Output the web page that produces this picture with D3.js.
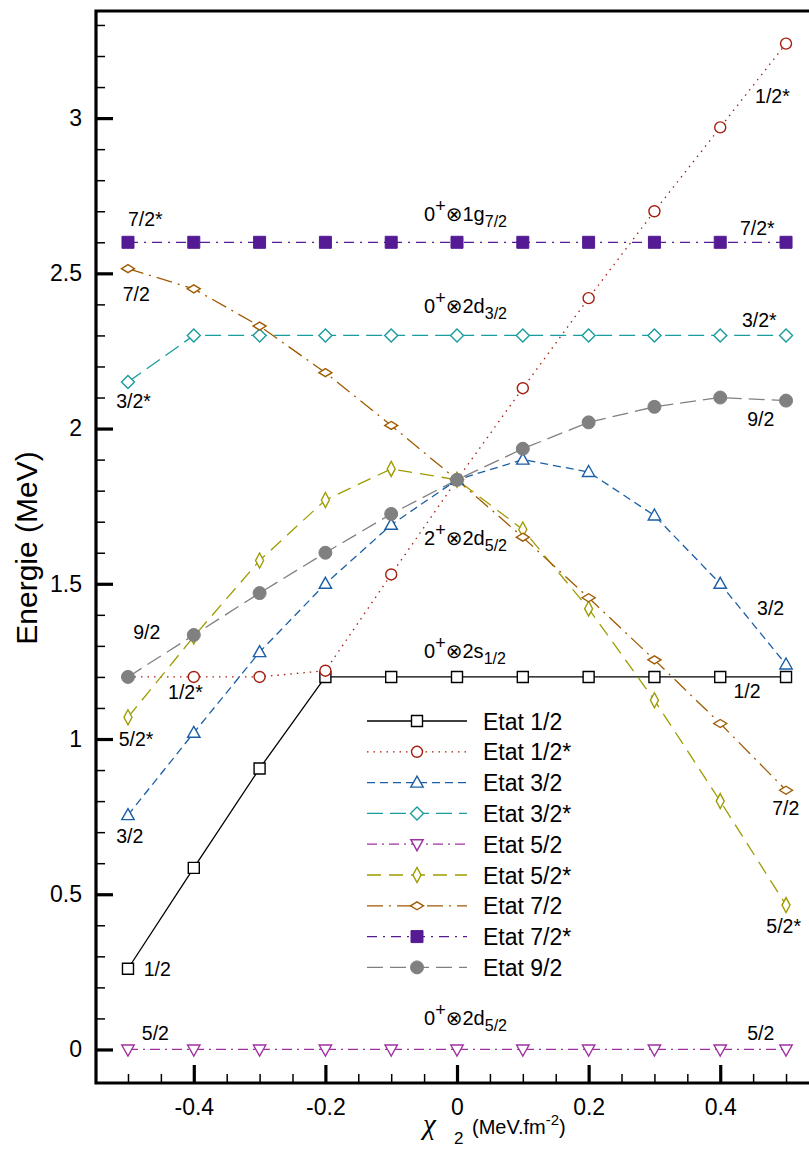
<!DOCTYPE html>
<html>
<head>
<meta charset="utf-8">
<script src="https://cdn.jsdelivr.net/npm/d3@7"></script>
<style>
  body { margin: 0; background: #fff; }
  svg { display: block; font-family: "Liberation Sans", Arial, Helvetica, sans-serif; }
</style>
</head>
<body>
<div id="chart"></div>
<script>
// chi_2 values (MeV.fm^-2)
var chi = [-0.5, -0.4, -0.3, -0.2, -0.1, 0, 0.1, 0.2, 0.3, 0.4, 0.5];

// energies (MeV)
var etat12  = [0.26, 0.585, 0.905, 1.2, 1.2, 1.2, 1.2, 1.2, 1.2, 1.2, 1.2];
var etat12s = [1.2, 1.2, 1.2, 1.22, 1.53, 1.835, 2.13, 2.42, 2.70, 2.97, 3.24];
var etat32  = [0.755, 1.02, 1.28, 1.50, 1.69, 1.835, 1.90, 1.86, 1.72, 1.50, 1.24];
var etat32s = [2.15, 2.30, 2.30, 2.30, 2.30, 2.30, 2.30, 2.30, 2.30, 2.30, 2.30];
var etat52  = [0, 0, 0, 0, 0, 0, 0, 0, 0, 0, 0];
var etat52s = [1.07, 1.33, 1.575, 1.77, 1.87, 1.835, 1.675, 1.42, 1.125, 0.80, 0.465];
var etat72  = [2.515, 2.45, 2.33, 2.18, 2.01, 1.835, 1.65, 1.455, 1.255, 1.05, 0.835];
var etat72s = [2.6, 2.6, 2.6, 2.6, 2.6, 2.6, 2.6, 2.6, 2.6, 2.6, 2.6];
var etat92  = [1.2, 1.335, 1.47, 1.60, 1.725, 1.835, 1.935, 2.02, 2.07, 2.10, 2.09];

var seriesNames = ["Etat 1/2", "Etat 1/2*", "Etat 3/2", "Etat 3/2*", "Etat 5/2",
                   "Etat 5/2*", "Etat 7/2", "Etat 7/2*", "Etat 9/2"];
var seriesValues = [etat12, etat12s, etat32, etat32s, etat52, etat52s, etat72, etat72s, etat92];

var yMajor = [0, 0.5, 1, 1.5, 2, 2.5, 3];
var xMajor = [-0.4, -0.2, 0, 0.2, 0.4];

// state labels next to the curves: [text, chi, energy]
var leftLabels = [["7/2*", -0.5, 2.652], ["7/2", -0.508, 2.41], ["3/2*", -0.518, 2.066],
                  ["9/2", -0.492, 1.322], ["1/2*", -0.439, 1.129], ["5/2*", -0.514, 0.977],
                  ["3/2", -0.518, 0.665], ["1/2", -0.476, 0.237], ["5/2", -0.479, 0.031]];
var rightLabels = [["1/2*", 0.453, 3.048], ["7/2*", 0.430, 2.623], ["3/2*", 0.433, 2.327],
                   ["9/2", 0.441, 2.008], ["3/2", 0.456, 1.399], ["1/2", 0.42, 1.132],
                   ["7/2", 0.479, 0.755], ["5/2*", 0.470, 0.375], ["5/2", 0.441, 0.031]];
// configurations: [core, orbital, sub j, energy]
var configs = [["0", "1g", "7/2", 2.668], ["0", "2d", "3/2", 2.372], ["2", "2d", "5/2", 1.625],
               ["0", "2s", "1/2", 1.261], ["0", "2d", "5/2", 0.079]];

var colors = ["#000000", "#a51d0d", "#1a5fa5", "#199c9c", "#a030a0",
              "#9e9c00", "#a05a00", "#541b94", "#808080"];
var dashes = [null, "1.5,5", "8,5", "16,7", "10,5,2,5", "14,8", "16,6,2,6", "10,6,2,6", "16,7"];
var markers = ["square", "circle", "triangle", "diamond", "tridown",
               "thin", "flat", "squareFill", "circleFill"];

var W = 809, H = 1161;
var svg = d3.select("#chart").append("svg").attr("width", W).attr("height", H);

var x = d3.scaleLinear().domain([-0.5486, 0.5349]).range([96, 809]);
var y = d3.scaleLinear().domain([-0.108, 3.345]).range([1083, 11]);

function markerPath(m) {
    switch (m) {
        case "square": return "M-5.5,-5.5h11v11h-11z";
        case "squareFill": return "M-6,-6h12v12h-12z";
        case "triangle": return "M0,-6.5L6.2,4.5H-6.2Z";
        case "tridown": return "M-6.2,-4.5H6.2L0,6.5Z";
        case "diamond": return "M0,-6.5L6.5,0L0,6.5L-6.5,0Z";
        case "thin": return "M0,-7.5L4,0L0,7.5L-4,0Z";
        case "flat": return "M0,-4L6.5,0L0,4L-6.5,0Z";
        case "circle": return d3.symbol(d3.symbolCircle, Math.PI * 5.5 * 5.5)();
        case "circleFill": return d3.symbol(d3.symbolCircle, Math.PI * 6.5 * 6.5)();
    }
}

function drawMarker(sel, i) {
    var filled = markers[i] == "squareFill" || markers[i] == "circleFill";
    sel.attr("d", markerPath(markers[i]))
        .attr("fill", filled ? colors[i] : "#fff")
        .attr("stroke", colors[i])
        .attr("stroke-width", filled ? 1 : 1.4);
}

// plain hyphen for negatives, like the original
var fmt = function (d) { return d3.format("~g")(d).replace("\u2212", "-"); };

// axes
var yAxisMajor = d3.axisLeft(y).tickValues(yMajor).tickSize(-17).tickPadding(14).tickFormat(fmt);
var yAxisMinor = d3.axisLeft(y).tickValues(d3.range(0, 34).map(function (i) { return i / 10; }))
    .tickSize(-9).tickFormat("");
var xAxisMajor = d3.axisBottom(x).tickValues(xMajor).tickSize(-18).tickPadding(16).tickFormat(fmt);
var xAxisMinor = d3.axisBottom(x).tickValues(d3.range(-10, 11).map(function (i) { return i / 20; }))
    .tickSize(-9).tickFormat("");

var gy = svg.append("g").attr("transform", "translate(96,0)");
gy.append("g").call(yAxisMinor).selectAll("line").attr("stroke-width", 1.5);
gy.append("g").call(yAxisMajor).selectAll("line").attr("stroke-width", 3.2);
var gx = svg.append("g").attr("transform", "translate(0,1083)");
gx.append("g").call(xAxisMinor).selectAll("line").attr("stroke-width", 1.5);
gx.append("g").call(xAxisMajor).selectAll("line").attr("stroke-width", 3.2);
svg.selectAll(".domain").remove();
svg.selectAll(".tick text").attr("font-size", 23).attr("fill", "#000")
    .attr("font-family", "Liberation Sans, Arial, sans-serif");

// frame
svg.append("path").attr("d", "M809,11H96V1083H809")
    .attr("fill", "none").attr("stroke", "#000").attr("stroke-width", 3.2);

// series
var line = d3.line().x(function (d) { return x(d[0]); }).y(function (d) { return y(d[1]); });
var gs = svg.append("g");
seriesValues.forEach(function (vals, i) {
    var pts = chi.map(function (c, k) { return [c, vals[k]]; });
    gs.append("path").datum(pts).attr("d", line)
        .attr("fill", "none").attr("stroke", colors[i]).attr("stroke-width", 1.3)
        .attr("stroke-dasharray", dashes[i]);
});
seriesValues.forEach(function (vals, i) {
    var pts = chi.map(function (c, k) { return [c, vals[k]]; });
    gs.append("g").selectAll("path").data(pts).enter().append("path")
        .attr("transform", function (d) { return "translate(" + x(d[0]) + "," + y(d[1]) + ")"; })
        .call(drawMarker, i);
});

// state labels
var gl = svg.append("g").attr("font-size", 19.5).attr("fill", "#000");
leftLabels.concat(rightLabels).forEach(function (l) {
    gl.append("text").attr("x", x(l[1])).attr("y", y(l[2])).text(l[0]);
});

// configuration labels
configs.forEach(function (c) {
    var t = svg.append("text").attr("x", x(-0.05)).attr("y", y(c[3]))
        .attr("font-size", 20).attr("fill", "#000");
    t.append("tspan").text(c[0]);
    t.append("tspan").attr("font-size", 18).attr("dy", -9).text("+");
    t.append("tspan").attr("font-family", "DejaVu Sans").attr("font-size", 20).attr("dy", 9).text("\u2297");
    t.append("tspan").text(c[1]);
    t.append("tspan").attr("font-size", 16).attr("dy", 6).text(c[2]);
});

// legend
var lg = svg.append("g");
seriesNames.forEach(function (name, i) {
    var ly = 721 + i * 30.8;
    lg.append("line").attr("x1", 367).attr("x2", 467).attr("y1", ly).attr("y2", ly)
        .attr("stroke", colors[i]).attr("stroke-width", 1.3)
        .attr("stroke-dasharray", dashes[i]);
    lg.append("path").attr("transform", "translate(417," + ly + ")").call(drawMarker, i);
    lg.append("text").attr("x", 483).attr("y", ly + 8.5).attr("font-size", 23)
        .attr("fill", "#000").text(name);
});

// axis titles
svg.append("text").attr("transform", "translate(37,548) rotate(-90)")
    .attr("text-anchor", "middle").attr("font-size", 30).attr("fill", "#000")
    .text("Energie (MeV)");

svg.append("text").attr("x", 423).attr("y", 1134)
    .attr("font-family", "Liberation Serif, Times New Roman, serif")
    .attr("font-style", "italic").attr("font-size", 29).text("\u03c7");
svg.append("text").attr("x", 454).attr("y", 1144).attr("font-size", 17).text("2");
var xt = svg.append("text").attr("x", 472).attr("y", 1134).attr("font-size", 20);
xt.append("tspan").text("(MeV.fm");
xt.append("tspan").attr("font-size", 15).attr("dy", -9).text("-2");
xt.append("tspan").attr("dy", 9).text(")");
</script>
</body>
</html>
